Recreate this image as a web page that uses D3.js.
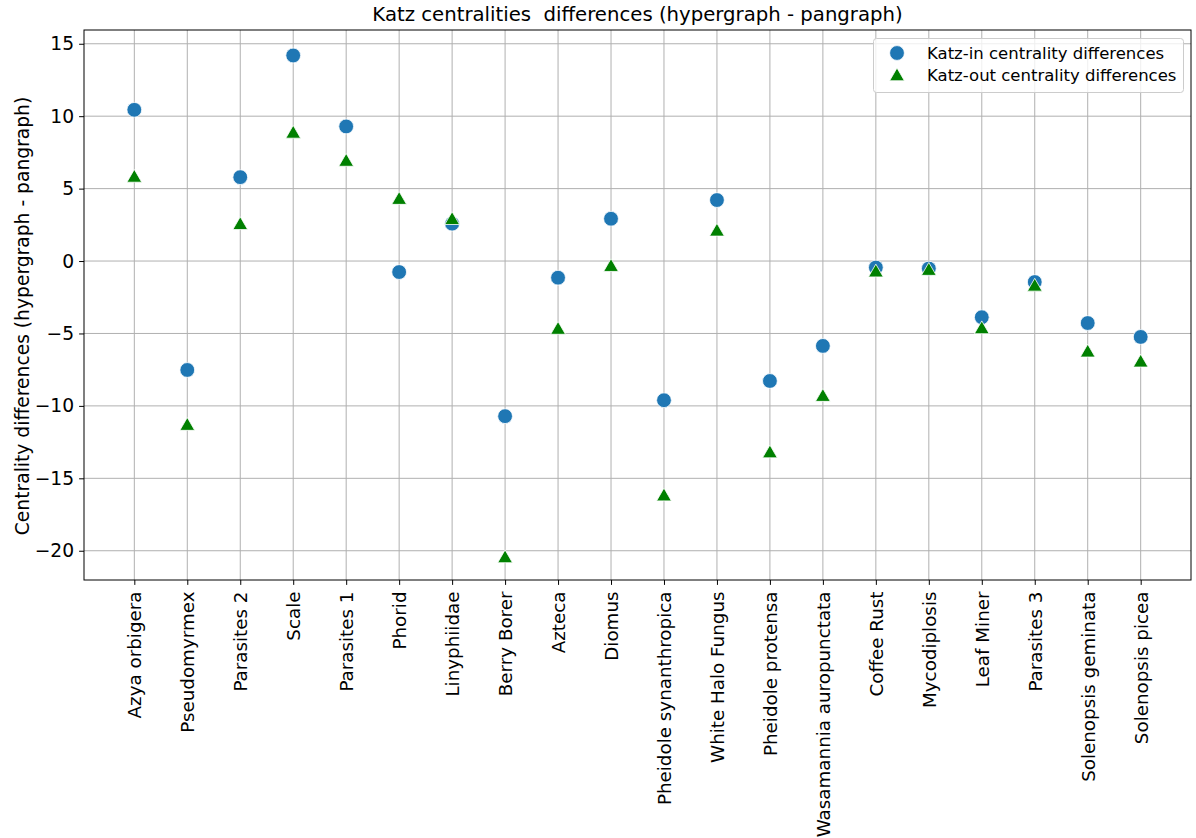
<!DOCTYPE html>
<html>
<head>
<meta charset="utf-8">
<script src="https://cdn.jsdelivr.net/npm/d3@7"></script>
<style>
  html, body { margin: 0; padding: 0; background: #fff; }
  svg { display: block; font-family: "DejaVu Sans", sans-serif; }
</style>
</head>
<body>
<svg id="chart" width="1196" height="838"></svg>
<script>
// Species / functional groups along the x axis
const categories = [
  "Azya orbigera", "Pseudomyrmex", "Parasites 2", "Scale", "Parasites 1",
  "Phorid", "Linyphiidae", "Berry Borer", "Azteca", "Diomus",
  "Pheidole synanthropica", "White Halo Fungus", "Pheidole protensa",
  "Wasamannia auropunctata", "Coffee Rust", "Mycodiplosis", "Leaf Miner",
  "Parasites 3", "Solenopsis geminata", "Solenopsis picea"
];

// Katz-in centrality differences (hypergraph - pangraph)
const katzIn = [
  10.44, -7.52, 5.79, 14.19, 9.29,
  -0.76, 2.58, -10.71, -1.15, 2.92,
  -9.61, 4.21, -8.28, -5.86, -0.45,
  -0.52, -3.88, -1.45, -4.28, -5.24
];

// Katz-out centrality differences (hypergraph - pangraph)
const katzOut = [
  5.82, -11.31, 2.55, 8.86, 6.92,
  4.29, 2.90, -20.45, -4.68, -0.34,
  -16.18, 2.10, -13.21, -9.31, -0.72,
  -0.61, -4.64, -1.70, -6.25, -6.94
];

const yTicks = [15, 10, 5, 0, -5, -10, -15, -20];

const svg = d3.select("#chart");
const plot = { left: 84, right: 1191, top: 30, bottom: 580 };
const tickFont = "18.3px";

const x = d3.scaleLinear()
  .domain([-0.95, categories.length - 1 + 0.95])
  .range([plot.left, plot.right]);

const y = d3.scaleLinear()
  .domain([-22.02, 15.95])
  .range([plot.bottom, plot.top]);

const fmt = v => (v < 0 ? "\u2212" + Math.abs(v) : String(v));

// Grid lines
const grid = svg.append("g").attr("stroke", "#b0b0b0").attr("stroke-width", 1);
categories.forEach((c, i) => {
  grid.append("line")
    .attr("x1", x(i)).attr("x2", x(i))
    .attr("y1", plot.top).attr("y2", plot.bottom);
});
yTicks.forEach(t => {
  grid.append("line")
    .attr("x1", plot.left).attr("x2", plot.right)
    .attr("y1", y(t)).attr("y2", y(t));
});

// Y axis
const yAxis = svg.append("g")
  .attr("transform", `translate(${plot.left},0)`)
  .call(d3.axisLeft(y).tickValues(yTicks).tickFormat(fmt).tickSize(4.9).tickPadding(5));
yAxis.select(".domain").remove();
yAxis.selectAll("line").attr("stroke", "#000").attr("stroke-width", 1);
yAxis.selectAll("text")
  .attr("fill", "#000")
  .style("font-size", "18.7px")
  .style("font-family", "DejaVu Sans, sans-serif");

// X axis with rotated category labels
const xAxis = svg.append("g")
  .attr("transform", `translate(0,${plot.bottom})`)
  .call(d3.axisBottom(x)
    .tickValues(d3.range(categories.length))
    .tickFormat(i => categories[i])
    .tickSize(4.9));
xAxis.select(".domain").remove();
xAxis.selectAll("line").attr("stroke", "#000").attr("stroke-width", 1);
xAxis.selectAll("text")
  .attr("fill", "#000")
  .style("font-size", tickFont)
  .style("font-family", "DejaVu Sans, sans-serif")
  .attr("text-anchor", "end")
  .attr("dy", "0.35em")
  .attr("x", 0)
  .attr("y", 0)
  .attr("transform", "translate(0,11.5) rotate(-90)");

// Frame
svg.append("rect")
  .attr("x", plot.left).attr("y", plot.top)
  .attr("width", plot.right - plot.left).attr("height", plot.bottom - plot.top)
  .attr("fill", "none").attr("stroke", "#000").attr("stroke-width", 1);

// Markers
const triangle = d3.symbol().type(d3.symbolTriangle).size(95);

svg.append("g").selectAll("circle")
  .data(katzIn)
  .join("circle")
  .attr("cx", (d, i) => x(i))
  .attr("cy", d => y(d))
  .attr("r", 7.4)
  .attr("fill", "#1f77b4")
  .attr("stroke", "#fff")
  .attr("stroke-width", 0.8);

svg.append("g").selectAll("path")
  .data(katzOut)
  .join("path")
  .attr("d", triangle)
  .attr("transform", (d, i) => `translate(${x(i)},${y(d) + 1.2})`)
  .attr("fill", "#008000")
  .attr("stroke", "#fff")
  .attr("stroke-width", 0.8);

// Title
svg.append("text")
  .attr("x", (plot.left + plot.right) / 2)
  .attr("y", 21)
  .attr("text-anchor", "middle")
  .attr("xml:space", "preserve")
  .style("white-space", "pre")
  .style("font-size", "19.7px")
  .text("Katz centralities  differences (hypergraph - pangraph)");

// Y axis title
svg.append("text")
  .attr("transform", "translate(29,316) rotate(-90)")
  .attr("text-anchor", "middle")
  .style("font-size", "18.7px")
  .text("Centrality differences (hypergraph - pangraph)");

// Legend
const legend = svg.append("g");
legend.append("rect")
  .attr("x", 873.5).attr("y", 38.5)
  .attr("width", 310).attr("height", 54)
  .attr("rx", 3)
  .attr("fill", "#fff").attr("fill-opacity", 0.8)
  .attr("stroke", "#cccccc").attr("stroke-width", 1);
legend.append("circle")
  .attr("cx", 897).attr("cy", 53).attr("r", 7.4)
  .attr("fill", "#1f77b4").attr("stroke", "#fff").attr("stroke-width", 0.8);
legend.append("path")
  .attr("d", triangle)
  .attr("transform", "translate(897,76.5)")
  .attr("fill", "#008000").attr("stroke", "#fff").attr("stroke-width", 0.8);
legend.append("text")
  .attr("x", 927).attr("y", 58.5)
  .style("font-size", "16.5px")
  .text("Katz-in centrality differences");
legend.append("text")
  .attr("x", 927).attr("y", 81)
  .style("font-size", "16.5px")
  .text("Katz-out centrality differences");
</script>
</body>
</html>
